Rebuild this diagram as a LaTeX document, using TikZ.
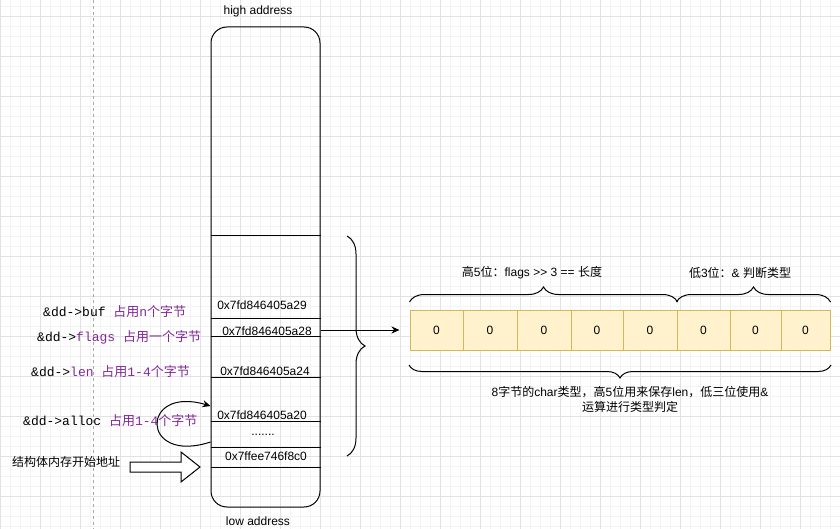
\documentclass[tikz,border=0pt]{standalone}
\usepackage{fontspec}
\setmainfont{Liberation Sans}
\newfontfamily\cjk{Noto Sans CJK SC}
\newfontfamily\mono{Liberation Mono}
\usetikzlibrary{arrows.meta,decorations.pathreplacing}
\definecolor{gridmajor}{HTML}{E2E2E2}
\definecolor{gridminor}{HTML}{F3F3F3}
\definecolor{purp}{HTML}{7F2A96}
\definecolor{cellfill}{HTML}{FFF2CC}
\definecolor{cellline}{HTML}{D6B656}
\definecolor{dashgray}{HTML}{AAAAAA}
\newcommand\zh[1]{{\cjk\mdseries #1}}
\newcommand\pp[1]{\textcolor{purp}{#1}}
\begin{document}
\begin{tikzpicture}[x=1pt,y=-1pt,
  txt/.style={font=\fontsize{12}{15}\selectfont, inner sep=0pt, align=center},
  codelbl/.style={font=\mono\fontsize{13}{15}\selectfont, inner sep=0pt, anchor=west},
  cell/.style={draw=cellline, fill=cellfill, line width=1pt, minimum height=40pt, inner sep=0pt, font=\fontsize{12}{14}\selectfont},
  bracedeco/.style={decorate, decoration={brace, amplitude=#1}, line width=1pt},
  arr/.style={-{Stealth[length=8pt,width=7pt]}, line width=1pt}]
\useasboundingbox (0,0) rectangle (840,529);
% background grid
\foreach \x in {0,10,...,840} \draw[gridminor, line width=0.8pt] (\x,0) -- (\x,529);
\foreach \y in {6,16,...,526} \draw[gridminor, line width=0.8pt] (0,\y) -- (840,\y);
\foreach \x in {0,40,...,840} \draw[gridmajor, line width=0.8pt] (\x,0) -- (\x,529);
\foreach \y in {16,56,...,496} \draw[gridmajor, line width=0.8pt] (0,\y) -- (840,\y);
\draw[dashgray, line width=0.8pt, dash pattern=on 3pt off 3pt] (93,0) -- (93,529);

% memory column
\node[draw, line width=1pt, rounded corners=16pt, minimum width=109pt, minimum height=480pt, inner sep=0pt] (col) at (265.5,267) {};
\foreach \y in {236,318,336,377,421,447,467}
  \draw[line width=1pt] (col.west |- 0,\y) -- (col.east |- 0,\y);
\node[txt] (hi) at (258,11) {high address};
\node[txt] (lo) at (258,521) {low address};
\node[txt] (a29) at (262,305) {0x7fd846405a29};
\node[txt] (a28) at (267,331) {0x7fd846405a28};
\node[txt] (a24) at (265,371) {0x7fd846405a24};
\node[txt] (a20) at (262,415) {0x7fd846405a20};
\node[txt] (dots) at (263,435) {.......};
\node[txt] (f8c0) at (266,456) {0x7ffee746f8c0};

% left labels
\node[codelbl] (lbuf) at (43,312) {\&dd->buf \pp{\zh{占用}n\zh{个字节}}};
\node[codelbl] (lflags) at (37,337) {\&dd->\pp{flags} \pp{\zh{占用一个字节}}};
\node[codelbl] (llen) at (31,372) {\&dd->\pp{len} \pp{\zh{占用}1-4\zh{个字节}}};
\node[codelbl] (lalloc) at (23,421) {\&dd->alloc \pp{\zh{占用}1-4\zh{个字节}}};
\node[txt, anchor=west] (start) at (12,462) {\zh{结构体内存开始地址}};

% block arrow
\draw[line width=1pt, fill=white] (130,462) -- (181,462) -- (181,452) -- (200,467) -- (181,482) -- (181,472) -- (130,472) -- cycle;

% curved arrow
\coordinate (cs) at (col.west |- 0,442);
\coordinate (ce) at (col.west |- 0,406);
\draw[arr] (cs) .. controls (140,465) and (140,385) .. (ce);

% right brace
\draw[bracedeco=18pt] (347,236) -- (347,456);

% bit cells
\foreach \a/\b [count=\i] in {410/463,463/517,517/571,571/623,623/677,677/730,730/781,781/830}
  \node[cell, minimum width={\b-\a}] (b\i) at ({(\a+\b)/2},330) {0};

% arrow to bits
\draw[arr, shorten >=10pt] (col.east |- b1.west) -- (b1.west);

% braces over/under bits
\draw[bracedeco=15pt] (b1.north west |- 0,302) -- (b5.north east |- 0,302);
\draw[bracedeco=15pt] (b6.north west |- 0,302) -- (b8.north east |- 0,302);
\draw[bracedeco=13pt] (831,365) -- (409,365);

\node[txt] (hi5) at (532,273) {\zh{高}5\zh{位：}flags >\kern0pt> 3 == \zh{长度}};
\node[txt] (lo3) at (740,273) {\zh{低}3\zh{位：}\& \zh{判断类型}};
\node[txt] (desc) at (630,399) {8\zh{字节的}char\zh{类型，高}5\zh{位用来保存}len\zh{，低三位使用}\&\\\zh{运算进行类型判定}};
\end{tikzpicture}
\end{document}
